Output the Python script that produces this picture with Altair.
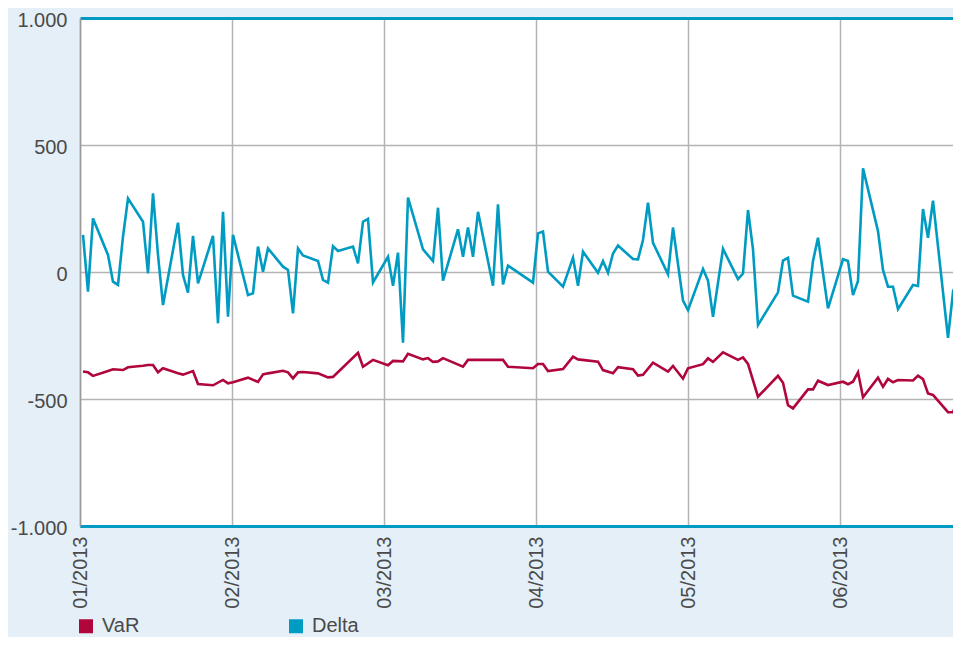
import altair as alt
import pandas as pd

# x values: day of year 2013 (trading days), y values in the chart's units
delta_days = [2,3,4,7,8,9,10,11,14,15,16,17,18,21,22,23,24,25,28,29,30,31,32,
              35,36,37,38,39,42,43,44,45,46,49,50,51,52,53,56,57,58,59,60,
              63,64,65,66,67,70,72,73,74,77,78,79,80,81,84,85,86,87,92,93,94,95,
              98,100,101,102,105,106,107,108,109,112,113,114,115,116,119,120,122,123,
              126,127,128,130,133,134,135,136,137,141,142,143,144,147,148,149,151,
              154,155,156,157,158,161,162,163,164,165,168,169,170,171,172,175,176,177,178]
delta_vals = [146,-77,211,67,-38,-51,139,290,198,-5,310,67,-130,194,-12,-81,142,-45,
              142,-202,237,-176,146,-91,-84,100,1,93,21,8,-163,93,65,43,-31,-42,102,83,
              100,34,198,209,-41,60,-54,76,-278,293,89,43,253,-34,168,60,175,60,237,
              -54,266,-49,25,-42,152,159,1,-58,56,-54,80,-3,43,-3,73,104,51,50,126,273,115,
              -9,175,-113,-150,12,-34,-176,91,-28,-6,244,89,-209,-80,45,56,-93,-117,43,135,-143,
              50,43,-91,-35,408,161,8,-58,-58,-146,-51,-55,248,135,281,-259,-80,-110,-330]

var_days = [2,3,4,7,8,10,11,14,15,16,17,18,21,22,24,25,28,30,31,32,35,37,38,39,
            42,43,44,45,46,49,51,52,57,58,60,63,64,66,67,70,71,72,73,74,78,79,86,87,
            92,93,94,95,98,100,101,105,106,108,109,112,113,114,116,119,120,122,123,
            126,127,128,130,133,134,135,137,141,142,143,144,147,148,149,151,
            154,155,156,157,158,161,162,163,164,165,168,169,170,171,172,175,176,177,178]
var_vals = [-392,-395,-409,-390,-383,-386,-375,-369,-366,-366,-395,-379,-399,-404,-390,-441,
            -446,-425,-438,-434,-416,-433,-403,-399,-389,-395,-419,-395,-394,-399,-415,-413,
            -318,-373,-346,-367,-350,-352,-322,-344,-339,-354,-352,-339,-373,-346,-346,-373,
            -379,-362,-362,-390,-382,-333,-344,-353,-386,-399,-375,-383,-408,-405,-357,
            -392,-370,-420,-379,-363,-340,-354,-316,-346,-336,-362,-491,-409,-436,-524,-537,
            -462,-462,-428,-445,-432,-442,-432,-395,-493,-416,-452,-421,-434,-425,
            -427,-408,-422,-478,-484,-552,-552,-500,-450]

series_names = ["VaR", "Delta"]
series_colors = ["#b0063c", "#009bc2"]
month_labels = ["01/2013", "02/2013", "03/2013", "04/2013", "05/2013", "06/2013"]
y_ticks = [-1000, -500, 0, 500, 1000]

x_start = 1.4
month_len = 365 / 12
x_end = 176.0

df = pd.concat([
    pd.DataFrame({"day": var_days, "value": var_vals, "series": "VaR"}),
    pd.DataFrame({"day": delta_days, "value": delta_vals, "series": "Delta"}),
], ignore_index=True)

tick_vals = [x_start + month_len * i for i in range(len(month_labels))]
label_expr = ("[" + ",".join(f"'{m}'" for m in month_labels) + "]"
              f"[round((datum.value - {x_start}) / {month_len})]")

FONT = "Liberation Sans"
TXT = "#4a4a4a"
GRID = "#b4b4b4"
BLUE = "#009bc2"

chart = alt.Chart(df).mark_line(strokeWidth=2.6, clip=True).encode(
    x=alt.X("day:Q",
            scale=alt.Scale(domain=[x_start, x_end], nice=False, zero=False),
            axis=alt.Axis(values=tick_vals, labelExpr=label_expr, labelAngle=-90,
                          grid=True, gridColor=GRID, gridWidth=1.5,
                          domainColor=BLUE, domainWidth=3, ticks=False,
                          labelPadding=10, title=None, labelFontSize=20,
                          labelColor=TXT, labelFont=FONT)),
    y=alt.Y("value:Q",
            scale=alt.Scale(domain=[-1000, 1000], nice=False),
            axis=alt.Axis(values=y_ticks,
                          labelExpr="(datum.value < 0 ? '-' : '') + replace(format(abs(datum.value), ','), ',', '.')",
                          grid=True,
                          gridColor=alt.condition("abs(datum.value) == 1000", alt.value(BLUE), alt.value(GRID)),
                          gridWidth=alt.condition("abs(datum.value) == 1000", alt.value(3), alt.value(1.5)),
                          domainColor="#9a9a9a", domainWidth=1.5, ticks=False,
                          labelPadding=13, labelOffset=2, title=None, labelFontSize=20,
                          labelColor=TXT, labelFont=FONT)),
    color=alt.Color("series:N",
                    scale=alt.Scale(domain=series_names, range=series_colors),
                    legend=alt.Legend(title=None, orient="none", legendX=-4, legendY=598,
                                      direction="horizontal", symbolType="square",
                                      symbolSize=1, symbolStrokeWidth=13,
                                      labelFontSize=20, labelColor=TXT, labelFont=FONT,
                                      labelOffset=6, columnPadding=129, padding=0)),
).properties(
    width=873, height=508,
    autosize=alt.AutoSizeParams(type="none"),
    padding={"left": 72, "top": 10, "right": 0, "bottom": 111},
    background="#e4eff7",
).configure_view(fill="white", strokeWidth=0)

chart.save("out.html", embed_options={"renderer": "svg", "actions": False})
